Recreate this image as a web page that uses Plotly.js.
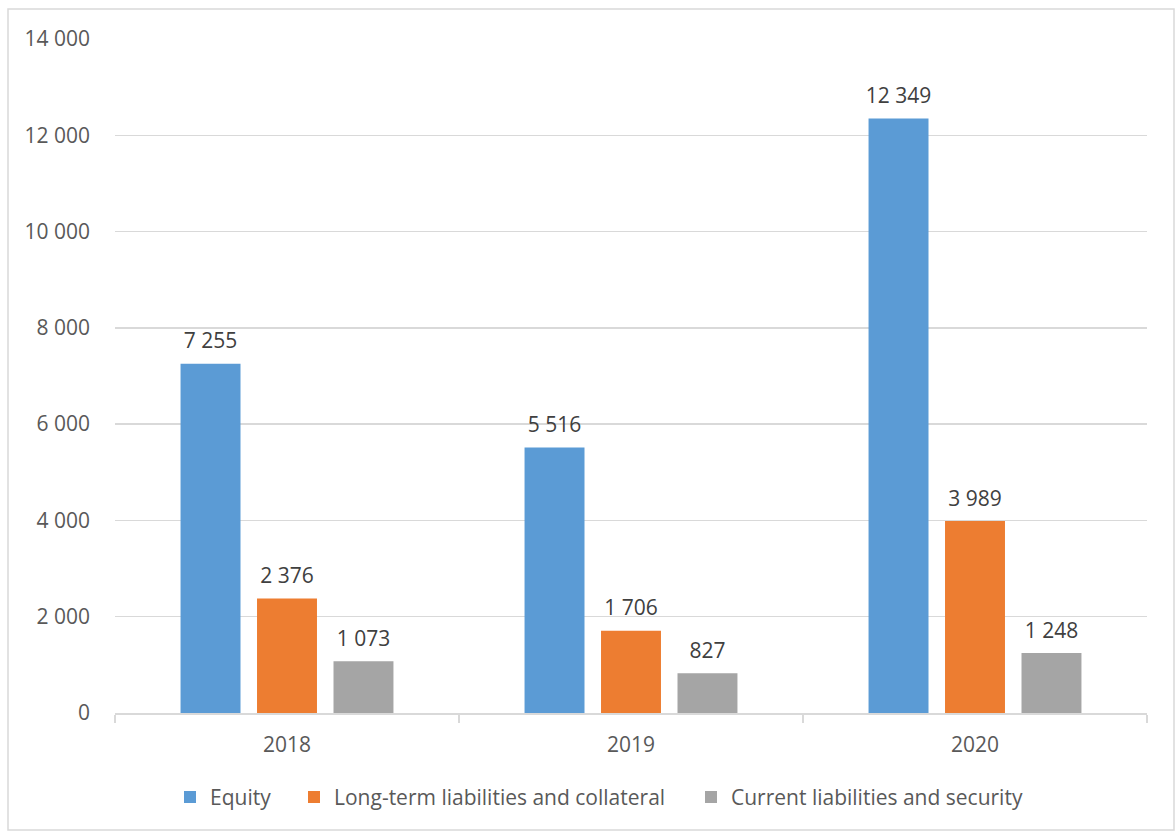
<!DOCTYPE html>
<html>
<head>
<meta charset="utf-8">
<script src="https://cdn.plot.ly/plotly-3.0.1.min.js"></script>
<style>html,body{margin:0;padding:0;background:#fff;}#chart{width:1176px;height:832px;}</style>
</head>
<body>
<div id="chart"></div>
<script>
const years = ["2018", "2019", "2020"];
const seriesNames = ["Equity", "Long-term liabilities and collateral", "Current liabilities and security"];
const equity = [7255, 5516, 12349];
const longTerm = [2376, 1706, 3989];
const current = [1073, 827, 1248];
const colors = ["#5B9BD5", "#ED7D31", "#A5A5A5"];
const yTicks = [0, 2000, 4000, 6000, 8000, 10000, 12000, 14000];

const FONT = "Open Sans, Noto Sans, sans-serif";
const FS = 21;
const legendIds = ["legend", "legend2", "legend3"];
const legendLeftPx = [178, 302, 699];
const values = [equity, longTerm, current];
const traces = values.map((v, i) => ({
  type: "bar",
  name: seriesNames[i],
  legend: legendIds[i],
  x: years,
  y: v,
  marker: {color: colors[i]},
  texttemplate: "<span style='font-size:" + FS + "px'>%{y:,d}</span><br> ",
  textposition: "outside",
  constraintext: "none",
  cliponaxis: false,
  textfont: {family: FONT, size: 8, color: "#404040"},
  hoverinfo: "none"
}));

function legendAt(px) {
  return {orientation: "h", x: (px - 115 - 8) / 1032, xanchor: "left", y: -0.125, yanchor: "middle",
          bgcolor: "rgba(0,0,0,0)", font: {family: FONT, size: FS, color: "#595959"}, itemwidth: 30};
}

const layout = {
  width: 1176, height: 832,
  margin: {l: 115, r: 29, t: 39, b: 119},
  paper_bgcolor: "#fff", plot_bgcolor: "#fff",
  separators: ". ",
  font: {family: FONT, size: FS, color: "#595959"},
  barmode: "group",
  bargap: 0.333,
  bargroupgap: 0.216,
  showlegend: true,
  legend: legendAt(legendLeftPx[0]),
  legend2: legendAt(legendLeftPx[1]),
  legend3: legendAt(legendLeftPx[2]),
  xaxis: {type: "category", showgrid: false, showline: true, linecolor: "#D9D9D9", linewidth: 1.5,
          ticks: "outside", tickson: "boundaries", ticklen: 8, tickcolor: "#D9D9D9", tickwidth: 1.5,
          ticklabelstandoff: 12, tickfont: {family: FONT, size: FS, color: "#595959"}},
  yaxis: {range: [0, 14000], tickvals: yTicks, tickformat: ",d", showgrid: true, gridcolor: "#D9D9D9", gridwidth: 1.5,
          zeroline: false, showline: false, ticks: "", ticklabelstandoff: 24,
          tickfont: {family: FONT, size: FS, color: "#595959"}},
  shapes: [{type: "rect", xref: "paper", yref: "paper",
            x0: (8 - 115) / 1032, x1: (1174 - 115) / 1032, y0: (713 - 830) / 674, y1: (713 - 9) / 674,
            line: {color: "#D9D9D9", width: 1.5}, fillcolor: "rgba(0,0,0,0)", layer: "below"}]
};

Plotly.newPlot("chart", traces, layout, {displayModeBar: false, staticPlot: true});
</script>
</body>
</html>
